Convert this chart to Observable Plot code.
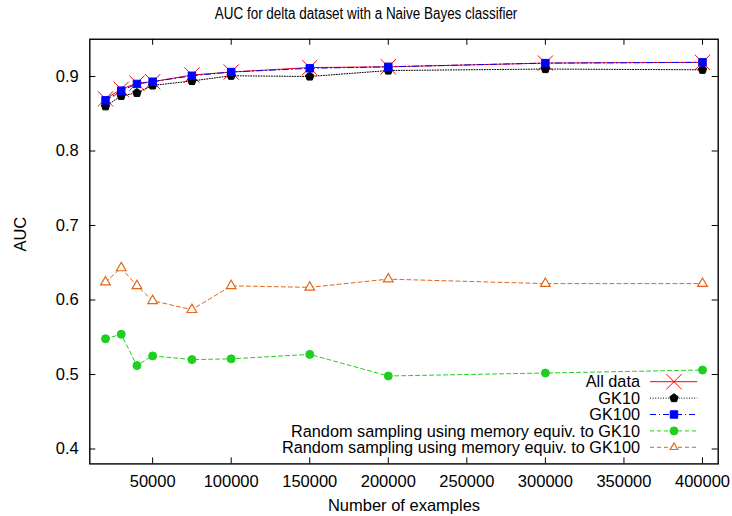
<!DOCTYPE html>
<html>
<head>
<meta charset="utf-8">
<script src="https://cdn.jsdelivr.net/npm/d3@7"></script>
<script src="https://cdn.jsdelivr.net/npm/@observablehq/plot@0.6"></script>
<style>
  html, body { margin: 0; padding: 0; background: #fff; }
  #wrap { position: relative; width: 732px; height: 516px; font-family: "Liberation Sans", Arial, sans-serif; }
  #title { box-sizing: border-box; height: 30px; padding-top: 6px; font-size: 16px; line-height: 16px; text-align: center; color: #000; }
  #title span { display: inline-block; transform: scaleX(0.84); transform-origin: center; white-space: nowrap; }
  #legend { position: absolute; left: 0; top: 0; pointer-events: none; }
</style>
</head>
<body>
<div id="wrap">
  <div id="title"><span></span></div>
  <div id="chart"></div>
</div>
<script>
const titleText = "AUC for delta dataset with a Naive Bayes classifier";
const xLabel = "Number of examples";
const yLabel = "AUC";
const examples = [20000, 30000, 40000, 50000, 75000, 100000, 150000, 200000, 300000, 400000];
const allData = [0.870, 0.883, 0.891, 0.893, 0.902, 0.906, 0.912, 0.913, 0.918, 0.919];
const gk10    = [0.860, 0.874, 0.878, 0.888, 0.894, 0.901, 0.900, 0.908, 0.910, 0.909];
const gk100   = [0.868, 0.881, 0.890, 0.893, 0.901, 0.906, 0.911, 0.913, 0.918, 0.919];
const rs10    = [0.548, 0.554, 0.512, 0.525, 0.520, 0.521, 0.527, 0.498, 0.502, 0.506];
const rs100   = [0.624, 0.643, 0.619, 0.599, 0.587, 0.619, 0.617, 0.628, 0.622, 0.622];
const seriesNames = [
  "All data",
  "GK10",
  "GK100",
  "Random sampling using memory equiv. to GK10",
  "Random sampling using memory equiv. to GK100"
];
const xTicks = [50000, 100000, 150000, 200000, 250000, 300000, 350000, 400000];
const yTicks = [0.4, 0.5, 0.6, 0.7, 0.8, 0.9];

document.querySelector("#title span").textContent = titleText;

const pentagon = {
  draw(ctx, size) {
    const r = Math.sqrt(size / Math.PI) * 1.1;
    for (let i = 0; i < 5; i++) {
      const a = -Math.PI / 2 + i * 2 * Math.PI / 5;
      const px = r * Math.cos(a), py = r * Math.sin(a);
      if (i === 0) ctx.moveTo(px, py); else ctx.lineTo(px, py);
    }
    ctx.closePath();
  }
};

const styles = [
  {values: allData, stroke: "#ff0000", dash: null, symbol: "times", r: 7, fill: "none", sw: 1},
  {values: gk10, stroke: "#000000", dash: "1,1.6", symbol: pentagon, r: 4, fill: "#000000", sw: 1},
  {values: gk100, stroke: "#0000ff", dash: "6,3,1,3", symbol: "square", r: 4.2, fill: "#0000ff", sw: 1},
  {values: rs10, stroke: "#1fcf1f", dash: "4,3", symbol: "circle", r: 4, fill: "#1fcf1f", sw: 1},
  {values: rs100, stroke: "#e0661a", dash: "4,3", symbol: "triangle", r: 3.6, fill: "#ffffff", sw: 1.2}
];

const rows = [];
styles.forEach((s, k) => s.values.forEach((v, i) => rows.push({series: seriesNames[k], k, x: examples[i], y: v})));

const W = 732, H = 486;
const mT = 8.75, mB = 52.6, mL = 89.3, mR = 14.3;
const fw = W - mL - mR, fh = H - mT - mB;
const tick = 6;

const marks = [];
styles.forEach((s, k) => {
  const d = rows.filter(r => r.k === k);
  marks.push(Plot.line(d, {x: "x", y: "y", stroke: s.stroke, strokeWidth: 1, strokeDasharray: s.dash || undefined}));
  marks.push(Plot.dot(d, {x: "x", y: "y", symbol: () => s.symbol, r: s.r, stroke: s.stroke, fill: s.fill, strokeWidth: s.sw}));
});

const plot = Plot.plot({
  width: W, height: H,
  marginTop: mT, marginBottom: mB, marginLeft: mL, marginRight: mR,
  style: {fontFamily: '"Liberation Sans", Arial, sans-serif', fontSize: "16.5px", color: "#000", background: "#fff"},
  x: {domain: [10000, 410000], label: null},
  y: {domain: [0.38, 0.95], label: null},
  symbol: {type: "identity"},
  marks: [
    ...marks,
    Plot.frame({stroke: "#000", strokeWidth: 1.4}),
    Plot.axisX(xTicks, {tickSize: 0, tickPadding: 11, tickFormat: d => String(d), fontSize: 16.5, label: null}),
    Plot.axisY(yTicks, {tickSize: 0, tickPadding: 11, tickFormat: d => d.toFixed(1), fontSize: 16.5, label: null}),
    Plot.tickX(xTicks, {x: d => d, insetTop: fh - tick, stroke: "#000"}),
    Plot.tickX(xTicks, {x: d => d, insetBottom: fh - tick, stroke: "#000"}),
    Plot.tickY(yTicks, {y: d => d, insetRight: fw - tick, stroke: "#000"}),
    Plot.tickY(yTicks, {y: d => d, insetLeft: fw - tick, stroke: "#000"}),
    Plot.text([xLabel], {frameAnchor: "bottom", dy: 41.5, text: d => d, fontSize: 16.5, lineAnchor: "middle"}),
    Plot.text([yLabel], {frameAnchor: "left", dx: -69, rotate: -90, text: d => d, fontSize: 16.5, lineAnchor: "middle"})
  ]
});
document.getElementById("chart").appendChild(plot);

// Legend overlay (inside the frame, bottom-right)
const legend = d3.select("#wrap").append("svg")
  .attr("id", "legend").attr("width", 732).attr("height", 516);
const rowY0 = 381.7, rowStep = 16.4, textRight = 640, s0 = 650, s1 = 697.3, sMid = 674;
const symMap = {times: d3.symbolTimes, square: d3.symbolSquare, circle: d3.symbolCircle, triangle: d3.symbolTriangle2};
styles.forEach((s, k) => {
  const y = rowY0 + k * rowStep;
  legend.append("text").attr("x", textRight).attr("y", y).attr("text-anchor", "end")
    .attr("dy", "0.35em").attr("font-size", 16.3)
    .attr("font-family", '"Liberation Sans", Arial, sans-serif').text(seriesNames[k]);
  legend.append("line").attr("x1", s0).attr("x2", s1).attr("y1", y).attr("y2", y)
    .attr("stroke", s.stroke).attr("stroke-width", 1).attr("stroke-dasharray", s.dash);
  const sym = typeof s.symbol === "string" ? symMap[s.symbol] : s.symbol;
  legend.append("path").attr("transform", `translate(${sMid},${y})`)
    .attr("d", d3.symbol(sym, s.r * s.r * Math.PI)())
    .attr("fill", s.fill).attr("stroke", s.stroke).attr("stroke-width", s.sw);
});
</script>
</body>
</html>
